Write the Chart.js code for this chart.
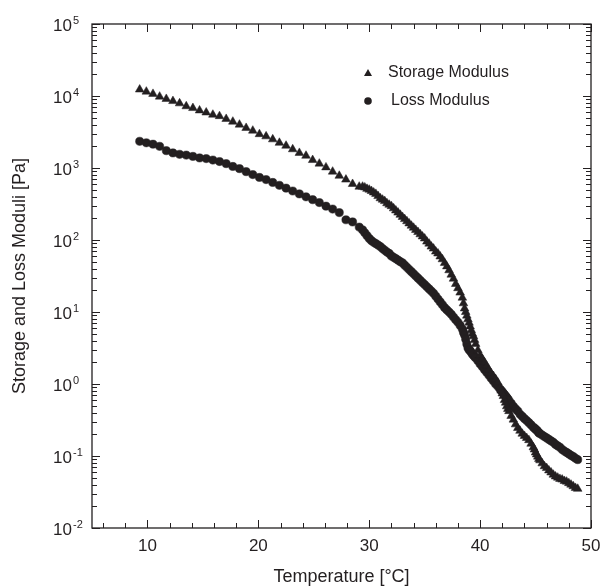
<!DOCTYPE html>
<html lang="en">
<head>
    <meta charset="UTF-8">
    <title>Storage and Loss Moduli vs Temperature</title>
    <style>
        html, body { margin: 0; padding: 0; background: #fff; }
        #wrap { width: 608px; height: 588px; }
    </style>
</head>
<body>
    <div id="wrap"><canvas id="chart" width="608" height="588"></canvas></div>

    <script src="https://cdn.jsdelivr.net/npm/chart.js"></script>
    <script>
        // temperatures [°C] shared by both series
        const temps = [
            9.3, 9.9, 10.5, 11.1, 11.7, 12.3, 12.9, 13.5, 14.1, 14.7, 15.3, 15.9, 16.5, 17.1, 17.7, 18.3, 18.9,
            19.5, 20.1, 20.7, 21.3, 21.9, 22.5, 23.1, 23.7, 24.3, 24.9, 25.5, 26.1, 26.7, 27.3, 27.9, 28.5, 29.1,
            29.4, 29.6, 29.8, 30.0, 30.2, 30.4, 30.6, 30.8, 31.0, 31.2, 31.4, 31.6, 31.8, 32.0, 32.2, 32.4, 32.6,
            32.8, 33.0, 33.2, 33.4, 33.6, 33.8, 34.0, 34.2, 34.4, 34.6, 34.8, 35.0, 35.2, 35.4, 35.6, 35.8, 36.0,
            36.2, 36.4, 36.6, 36.8, 37.0, 37.2, 37.4, 37.6, 37.8, 38.0, 38.2, 38.4, 38.5, 38.6, 38.7, 38.8, 38.9,
            39.0, 39.1, 39.2, 39.3, 39.4, 39.5, 39.6, 39.8, 40.0, 40.2, 40.4, 40.6, 40.8, 41.0, 41.2, 41.4, 41.6,
            41.8, 41.9, 42.0, 42.1, 42.2, 42.3, 42.4, 42.5, 42.6, 42.8, 43.0, 43.2, 43.4, 43.6, 43.8, 44.0, 44.2,
            44.4, 44.6, 44.8, 44.9, 45.0, 45.1, 45.2, 45.3, 45.4, 45.6, 45.8, 46.0, 46.2, 46.4, 46.6, 46.8, 47.0,
            47.2, 47.4, 47.6, 47.8, 48.0, 48.2, 48.4, 48.6, 48.8
        ];

        // storage modulus G' [Pa]
        const storage = [
            12300, 11500, 10700, 9800, 9100, 8500, 7900, 7200, 6800, 6300, 5900, 5500, 5250, 4800, 4400, 4000, 3600,
            3300, 2950, 2750, 2500, 2240, 2040, 1820, 1620, 1480, 1290, 1150, 1020, 890, 780, 690, 600, 550,
            550, 537, 513, 500, 479, 457, 437, 407, 380, 363, 347, 324, 309, 295, 275, 257, 240,
            224, 209, 195, 182, 170, 158, 148, 138, 129, 120, 112, 105, 95, 89, 81, 76, 69,
            65, 59, 54, 48, 43, 38, 33, 29, 24.5, 21.4, 18.6, 15.8, 13.2, 11.2, 10, 8.9, 7.9,
            7.1, 6.3, 5.6, 5.0, 4.6, 4.1, 3.6, 2.95, 2.5, 2.24, 2.0, 1.78, 1.58, 1.41, 1.29, 1.17, 1.05,
            0.89, 0.81, 0.74, 0.68, 0.60, 0.55, 0.49, 0.45, 0.42, 0.36, 0.32, 0.275, 0.245, 0.224, 0.204, 0.19, 0.178,
            0.166, 0.148, 0.132, 0.123, 0.112, 0.105, 0.098, 0.091, 0.087, 0.079, 0.072, 0.068, 0.063, 0.059, 0.055, 0.052, 0.050,
            0.048, 0.047, 0.045, 0.044, 0.042, 0.040, 0.038, 0.036, 0.035
        ];

        // loss modulus G'' [Pa]
        const loss = [
            2350, 2240, 2140, 2000, 1740, 1620, 1550, 1510, 1450, 1380, 1350, 1290, 1230, 1150, 1050, 980, 890,
            810, 740, 690, 630, 575, 525, 479, 437, 398, 363, 331, 295, 269, 240, 191, 178, 151,
            138, 126, 115, 105, 98, 93, 89, 85, 81, 76, 72, 68, 65, 60, 57.5, 55, 52.5,
            50, 48, 44.7, 41.7, 38.9, 36.3, 33.9, 31.6, 29.5, 27.5, 25.7, 24, 22.4, 20.9, 19.5, 18.2, 16.6,
            15.1, 13.8, 12.6, 11.5, 10.7, 10, 9.3, 8.5, 7.8, 7.2, 6.5, 5.8, 5.2, 4.8, 4.2, 3.6, 3.2,
            3.0, 2.9, 2.75, 2.6, 2.5, 2.4, 2.3, 2.1, 1.9, 1.74, 1.58, 1.45, 1.32, 1.2, 1.1, 1.0, 0.93,
            0.85, 0.81, 0.78, 0.74, 0.71, 0.68, 0.65, 0.62, 0.59, 0.54, 0.49, 0.45, 0.42, 0.38, 0.355, 0.33, 0.31,
            0.29, 0.27, 0.25, 0.245, 0.235, 0.229, 0.22, 0.209, 0.205, 0.195, 0.186, 0.178, 0.17, 0.162, 0.155, 0.145, 0.138,
            0.132, 0.123, 0.117, 0.112, 0.107, 0.102, 0.098, 0.093, 0.089
        ];

        const xTicks = [10, 20, 30, 40, 50];
        const xMinorTicks = [6, 8, 12, 14, 16, 18, 22, 24, 26, 28, 32, 34, 36, 38, 42, 44, 46, 48];
        const yExponents = [-2, -1, 0, 1, 2, 3, 4, 5];

        const ink = '#231f20';
        const font = '"Liberation Sans", Arial, sans-serif';

        // frame, inward ticks, superscript labels, titles and legend
        const framePlugin = {
            id: 'frame',
            afterDraw(chart) {
                const { ctx, chartArea: a, scales } = chart;
                const xs = scales.x, ys = scales.y;
                ctx.save();
                ctx.strokeStyle = ink;
                ctx.fillStyle = ink;
                ctx.lineWidth = 1.3;
                ctx.strokeRect(a.left, a.top, a.right - a.left, a.bottom - a.top);

                ctx.lineWidth = 1;
                ctx.beginPath();
                const xTick = (v, len) => {
                    const px = Math.round(xs.getPixelForValue(v)) + 0.5;
                    ctx.moveTo(px, a.bottom); ctx.lineTo(px, a.bottom - len);
                    ctx.moveTo(px, a.top); ctx.lineTo(px, a.top + len);
                };
                xTicks.forEach(v => xTick(v, 8));
                xMinorTicks.forEach(v => xTick(v, 5));

                const yTick = (v, len) => {
                    const py = Math.round(ys.getPixelForValue(v)) + 0.5;
                    ctx.moveTo(a.left, py); ctx.lineTo(a.left + len, py);
                    ctx.moveTo(a.right, py); ctx.lineTo(a.right - len, py);
                };
                yExponents.forEach(e => {
                    yTick(Math.pow(10, e), 8);
                    if (e < 5) {
                        for (let m = 2; m <= 9; m++) yTick(m * Math.pow(10, e), 5);
                    }
                });
                ctx.stroke();

                // x tick labels
                ctx.font = '17px ' + font;
                ctx.textAlign = 'center';
                ctx.textBaseline = 'middle';
                xTicks.forEach(v => {
                    ctx.fillText(String(v), xs.getPixelForValue(v), a.bottom + 18);
                });

                // y tick labels as 10^n
                yExponents.forEach(e => {
                    const py = ys.getPixelForValue(Math.pow(10, e));
                    ctx.font = '17px ' + font;
                    ctx.textAlign = 'right';
                    ctx.fillText('10', a.left - 20, py + 2);
                    ctx.font = '11px ' + font;
                    ctx.textAlign = 'left';
                    ctx.fillText(String(e), a.left - 19, py - 3);
                });

                // axis titles
                ctx.font = '18px ' + font;
                ctx.textAlign = 'center';
                ctx.fillText('Temperature [°C]', (a.left + a.right) / 2, 577);
                ctx.save();
                ctx.translate(20, (a.top + a.bottom) / 2);
                ctx.rotate(-Math.PI / 2);
                ctx.fillText('Storage and Loss Moduli [Pa]', 0, 0);
                ctx.restore();

                // legend
                ctx.font = '16px ' + font;
                ctx.textAlign = 'left';
                chart.data.datasets.forEach((ds, i) => {
                    const ly = 73 + i * 28;
                    const lx = 368;
                    ctx.beginPath();
                    if (ds.pointStyle === 'triangle') {
                        ctx.moveTo(lx, ly - 4);
                        ctx.lineTo(lx + 4, ly + 3);
                        ctx.lineTo(lx - 4, ly + 3);
                        ctx.closePath();
                    } else {
                        ctx.arc(lx, ly, 3.8, 0, Math.PI * 2);
                    }
                    ctx.fill();
                    ctx.fillText(ds.label, lx + (i === 0 ? 20 : 23), ly);
                });
                ctx.restore();
            }
        };

        const toPoints = vals => temps.map((t, i) => ({ x: t, y: vals[i] }));

        new Chart(document.getElementById('chart'), {
            type: 'scatter',
            data: {
                datasets: [
                    {
                        label: 'Storage Modulus',
                        data: toPoints(storage),
                        pointStyle: 'triangle',
                        pointRadius: 5,
                        backgroundColor: ink,
                        borderColor: ink,
                        borderWidth: 0.5
                    },
                    {
                        label: 'Loss Modulus',
                        data: toPoints(loss),
                        pointStyle: 'circle',
                        pointRadius: 4.1,
                        backgroundColor: ink,
                        borderColor: ink,
                        borderWidth: 0.5
                    }
                ]
            },
            options: {
                responsive: false,
                animation: false,
                layout: { padding: { left: 92, right: 17, top: 24, bottom: 60 } },
                plugins: {
                    legend: { display: false },
                    tooltip: { enabled: false }
                },
                scales: {
                    x: { type: 'linear', min: 5, max: 50, display: false },
                    y: { type: 'logarithmic', min: 0.01, max: 100000, display: false }
                }
            },
            plugins: [framePlugin]
        });
    </script>
</body>
</html>
